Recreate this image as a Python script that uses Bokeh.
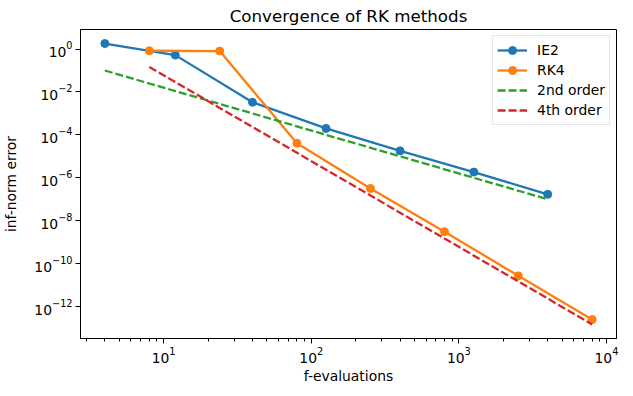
import numpy as np
from bokeh.plotting import figure
from bokeh.models import Range1d, FixedTicker, LogTickFormatter
from bokeh.embed import file_html
from bokeh.resources import INLINE

# ---- data ----
ie2_evals = [4, 12, 40, 126, 400, 1264, 4000]
ie2_err = [1.8, 0.52, 3.3e-3, 2.0e-4, 1.8e-5, 1.85e-6, 1.7e-7]
rk4_evals = [8, 24, 80, 252, 800, 2528, 8000]
rk4_err = [0.83, 0.8, 4.1e-5, 3.2e-7, 3.1e-9, 2.7e-11, 2.5e-13]
order2_ref = [0.1, 1.1e-2, 1.0e-3, 1.0e-4, 1.0e-5, 1.0e-6, 1.0e-7]
order4_ref = [0.147, 1.8e-3, 1.47e-5, 1.5e-7, 1.47e-9, 1.5e-11, 1.47e-13]

x_major = [10, 100, 1000, 10000]
x_minor = [3, 4, 5, 6, 7, 8, 9, 20, 30, 40, 50, 60, 70, 80, 90,
           200, 300, 400, 500, 600, 700, 800, 900,
           2000, 3000, 4000, 5000, 6000, 7000, 8000, 9000]
y_major = [1e0, 1e-2, 1e-4, 1e-6, 1e-8, 1e-10, 1e-12]

title = "Convergence of RK methods"
x_label = "f-evaluations"
y_label = "inf-norm error"

# matplotlib-like 5% margins in log space
def log_range(vals):
    lo, hi = np.log10(min(vals)), np.log10(max(vals))
    m = 0.05 * (hi - lo)
    return 10 ** (lo - m), 10 ** (hi + m)

all_x = ie2_evals + rk4_evals
all_y = ie2_err + rk4_err + order2_ref + order4_ref
x0, x1 = log_range(all_x)
y0, y1 = log_range(all_y)

FONT = "DejaVu Sans"

p = figure(width=622, height=388, x_axis_type="log", y_axis_type="log",
           x_range=Range1d(x0, x1), y_range=Range1d(y0, y1),
           output_backend="svg", toolbar_location=None,
           min_border_left=72, min_border_right=6, min_border_top=23,
           min_border_bottom=50, title=title)

p.title.align = "center"
p.title.text_font = FONT
p.title.text_font_size = "16.7px"
p.title.text_font_style = "normal"
p.title.text_color = "black"
p.title.standoff = 7

p.grid.visible = False
p.outline_line_color = "black"
p.outline_line_width = 1
p.background_fill_color = "white"
p.border_fill_color = "white"

p.xaxis.ticker = FixedTicker(ticks=x_major, minor_ticks=x_minor)
p.yaxis.ticker = FixedTicker(ticks=y_major, minor_ticks=[])
p.xaxis.formatter = LogTickFormatter()
p.yaxis.formatter = LogTickFormatter()

for ax in (p.xaxis, p.yaxis):
    ax.axis_label_text_font = FONT
    ax.axis_label_text_font_size = "13.9px"
    ax.axis_label_text_font_style = "normal"
    ax.major_label_text_font = FONT
    ax.major_label_text_font_size = "13.9px"
    ax.major_tick_in = 0
    ax.major_tick_out = 5
    ax.minor_tick_in = 0
    ax.minor_tick_out = 3
    ax.axis_line_color = "black"
    ax.major_tick_line_color = "black"
    ax.minor_tick_line_color = "black"
    ax.major_label_text_color = "black"
    ax.axis_label_text_color = "black"
    ax.major_label_standoff = 3
    ax.axis_label_standoff = 2

p.xaxis.axis_label = x_label
p.yaxis.axis_label = y_label
p.yaxis.axis_label_standoff = 12

BLUE, ORANGE, GREEN, RED = "#1f77b4", "#ff7f0e", "#2ca02c", "#d62728"

p.line(ie2_evals, ie2_err, line_color=BLUE, line_width=2.3, legend_label="IE2")
p.scatter(ie2_evals, ie2_err, size=8, color=BLUE, legend_label="IE2")
p.line(rk4_evals, rk4_err, line_color=ORANGE, line_width=2.3, legend_label="RK4")
p.scatter(rk4_evals, rk4_err, size=8, color=ORANGE, legend_label="RK4")
p.line(ie2_evals, order2_ref, line_color=GREEN, line_width=2.3,
       line_dash="8 3", legend_label="2nd order")
p.line(rk4_evals, order4_ref, line_color=RED, line_width=2.3,
       line_dash="8 3", legend_label="4th order")

lg = p.legend[0]
lg.location = "top_right"
lg.margin = 6
lg.padding = 4
lg.spacing = 0
lg.glyph_width = 30
lg.glyph_height = 20
lg.label_height = 20
lg.label_standoff = 10
lg.label_text_font = FONT
lg.label_text_font_size = "13.9px"
lg.label_text_color = "black"
lg.border_line_color = "#cccccc"
lg.border_line_width = 1
lg.background_fill_alpha = 0.8

open("out.html", "w").write(file_html(p, INLINE))
